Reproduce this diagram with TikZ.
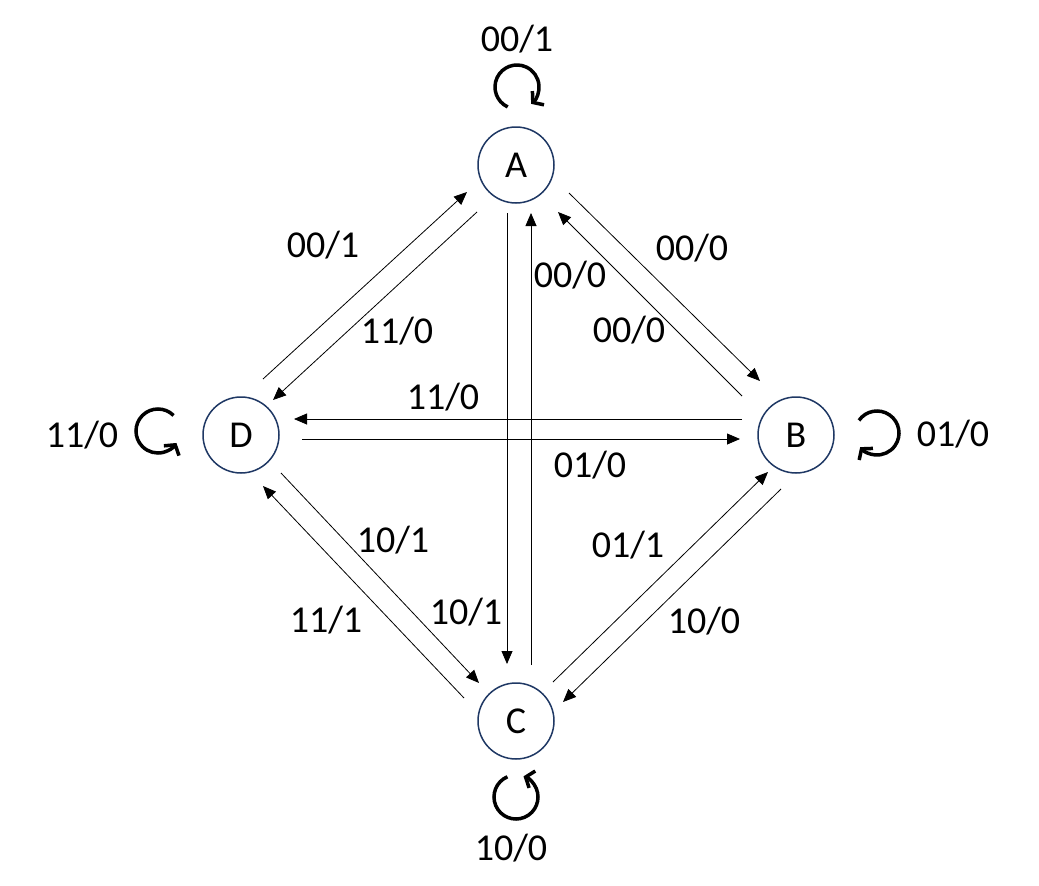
\documentclass[tikz,border=0pt]{standalone}
\usepackage{fontspec}
\setmainfont{Carlito}
\usetikzlibrary{arrows.meta,calc}
\definecolor{stateblue}{HTML}{1F3864}

\begin{document}
\begin{tikzpicture}[x=1pt,y=-1pt,
    every node/.style={font=\fontsize{38}{44}\selectfont},
    state/.style={circle, draw=stateblue, line width=1.5pt, minimum size=76pt, inner sep=0pt},
    edge/.style={line width=0.8pt, -{Triangle[length=13pt,width=11pt]}},
    selfloop/.style={line width=3.5pt, -{Straight Barb[length=7pt,width=18pt]}}]
  \useasboundingbox (0,0) rectangle (1039,886);
  % states
  \node[state] (A) at (516,165) {A};
  \node[state] (B) at (796,435) {B};
  \node[state] (C) at (516,721) {C};
  \node[state] (D) at (241,435) {D};
  % transitions
  \draw[edge] ($(D)+(22,-56)$) -- ($(A)+(-49,27)$);
  \draw[edge] ($(A)+(-39,47)$) -- ($(D)+(32,-35)$);
  \draw[edge] ($(A)+(53,28)$) -- ($(B)+(-36,-54)$);
  \draw[edge] ($(B)+(-54,-39)$) -- ($(A)+(42,47)$);
  \draw[edge] ($(A)+(-9,48)$) -- ($(C)+(-9,-57)$);
  \draw[edge] ($(C)+(15,-56)$) -- ($(A)+(15,48)$);
  \draw[edge] ($(B)+(-54,-16)$) -- ($(D)+(53,-16)$);
  \draw[edge] ($(D)+(61,4)$) -- ($(B)+(-56,4)$);
  \draw[edge] ($(D)+(40,38)$) -- ($(C)+(-37,-38)$);
  \draw[edge] ($(C)+(-52,-23)$) -- ($(D)+(22,51)$);
  \draw[edge] ($(C)+(37,-39)$) -- ($(B)+(-28,37)$);
  \draw[edge] ($(B)+(-15,54)$) -- ($(C)+(47,-19)$);
  % labels
  \node (lda) at (323,245) {00/1};
  \node (lad) at (397,331) {11/0};
  \node (lab) at (692,248) {00/0};
  \node (lba) at (629,330) {00/0};
  \node (lca) at (570,275) {00/0};
  \node (lac) at (466,612) {10/1};
  \node (lbd) at (443,397) {11/0};
  \node (ldb) at (590,465) {01/0};
  \node (ldc) at (393,540) {10/1};
  \node (lcd) at (326,620) {11/1};
  \node (lcb) at (628,545) {01/1};
  \node (lbc) at (704,621) {10/0};
  % self loops
  \draw[selfloop] ($(A)+(1,-78)$) ++(245:22pt) arc[start angle=245, end angle=-50, radius=22pt];
  \draw[selfloop] ($(D)+(-83,-4)$) ++(45:22pt) arc[start angle=45, end angle=327, radius=22pt];
  \draw[selfloop] ($(C)+(0,76)$) ++(113:22pt) arc[start angle=113, end angle=430, radius=22pt];
  \draw[selfloop] ($(B)+(81,-2)$) ++(145:22pt) arc[start angle=145, end angle=-140, radius=22pt];
  \node (laa) at (517,39) {00/1};
  \node (ldd) at (82,435) {11/0};
  \node (lcc) at (511,848) {10/0};
  \node (lbb) at (953,434) {01/0};
\end{tikzpicture}
\end{document}
